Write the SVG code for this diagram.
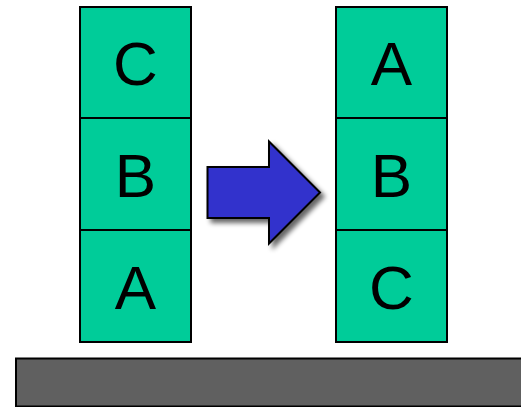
<svg xmlns="http://www.w3.org/2000/svg" width="521" height="407" viewBox="0 0 521 407">
<style>
.blk{fill:#00cc99;stroke:#000;stroke-width:2}
.lbl{font-family:"Liberation Sans",Arial,sans-serif;font-size:62px;fill:#000;text-anchor:middle;dominant-baseline:central}
</style>
<defs>
<filter id="sh" x="-20%" y="-20%" width="150%" height="150%">
<feGaussianBlur in="SourceAlpha" stdDeviation="2.5"/>
<feOffset dx="4" dy="4" result="b"/>
<feComponentTransfer><feFuncA type="linear" slope="0.6"/></feComponentTransfer>
<feMerge><feMergeNode/><feMergeNode in="SourceGraphic"/></feMerge>
</filter>
</defs>
<rect x="0" y="0" width="521" height="407" fill="#fff"/>
<g id="table"><rect x="16" y="358.5" width="510" height="48" fill="#606060" stroke="#000" stroke-width="2"/></g>
<g id="left-C"><rect class="blk" x="80" y="7" width="111" height="111"/><text class="lbl" x="135.5" y="63">C</text></g>
<g id="left-B"><rect class="blk" x="80" y="118" width="111" height="112"/><text class="lbl" x="135.5" y="175">B</text></g>
<g id="left-A"><rect class="blk" x="80" y="230" width="111" height="112"/><text class="lbl" x="135.5" y="287">A</text></g>
<g id="right-A"><rect class="blk" x="336" y="7" width="111" height="111"/><text class="lbl" x="391.5" y="63">A</text></g>
<g id="right-B"><rect class="blk" x="336" y="118" width="111" height="112"/><text class="lbl" x="391.5" y="175">B</text></g>
<g id="right-C"><rect class="blk" x="336" y="230" width="111" height="112"/><text class="lbl" x="391.5" y="287">C</text></g>
<g id="connectors">
<path d="M207.5,167 L269,167 L269,141.5 L320,192.5 L269,243.5 L269,218 L207.5,218 Z" fill="#3333cc" stroke="#000" stroke-width="2" stroke-linejoin="miter" filter="url(#sh)"/>
</g>
</svg>
